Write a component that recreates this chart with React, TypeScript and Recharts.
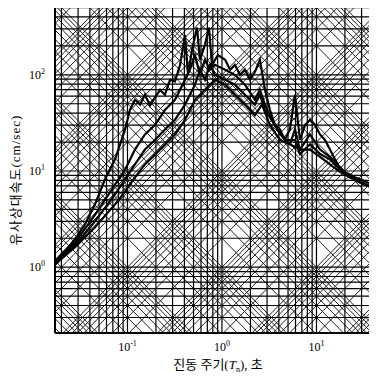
import React from 'react';
import { LineChart, Line, XAxis, YAxis, ReferenceLine } from 'recharts';

// Periods (s) and pseudo-velocities (cm/sec) for four response spectra
const T_A = [0.0171,0.0218,0.0278,0.0355,0.0453,0.0578,0.0738,0.0942,0.106,0.120,0.136,0.153,0.173,0.195,0.221,0.249,0.282,0.318,0.360,0.406,0.437,0.482,0.544,0.585,0.661,0.728,0.784,0.907,1.08,1.22,1.37,1.55,1.75,1.98,2.23,2.52,2.85,3.22,3.64,4.11,4.64,5.24,5.92,6.69,7.56,8.54,9.64,10.9,12.3,13.9,15.7,17.7,20.0,22.6,25.5,28.9,32.6,36.8,43.7];
const V_A = [1.15,1.47,1.95,2.79,4.5,8.2,13.2,26.9,43,55,49,62,48,58,70,62,89,85,127,260,100,182,310,143,205,310,127,160,143,113,127,100,113,89,107,143,70,43,30,27,21,27,62,21,30,34,30,24,21,16.7,13.2,10.7,9.7,9.2,8.6,8.2,7.8,7.4,6.7];

const T_B = [0.0171,0.0278,0.0453,0.0738,0.0942,0.120,0.153,0.195,0.249,0.318,0.360,0.406,0.458,0.518,0.585,0.661,0.747,0.843,1.08,1.37,1.75,2.23,2.52,2.85,3.22,4.11,5.24,5.92,6.69,8.54,10.9,13.9,17.7,22.6,28.9,43.7];
const V_B = [1.12,1.8,3.5,7.2,10.3,16.7,24,30,43,55,70,89,113,160,100,143,113,127,113,100,79,55,70,49,38,24,19,27,16.7,24,16.7,14,10.4,8.8,7.8,6.4];

const T_C = [0.0171,0.0278,0.0453,0.0738,0.0942,0.120,0.153,0.195,0.249,0.318,0.406,0.458,0.518,0.585,0.661,0.747,0.843,1.08,1.37,1.75,2.23,2.52,2.85,3.64,4.64,5.92,6.69,8.54,10.9,13.9,17.7,22.6,28.9,43.7];
const V_C = [1.1,1.69,3.0,5.7,8.2,11.7,16.7,21,27,34,49,62,79,113,89,127,100,89,79,62,49,62,43,30,21,21,15,19,15,13.2,10.4,8.6,7.6,6.4];

const T_D = [0.0171,0.0278,0.0453,0.0738,0.0942,0.120,0.153,0.195,0.249,0.318,0.406,0.518,0.661,0.843,1.08,1.37,1.75,2.23,2.65,3.22,4.11,5.24,6.69,8.54,10.9,13.9,17.7,22.6,28.9,43.7];
const V_D = [1.07,1.61,2.6,4.5,6.1,8.6,11.7,14.8,18.8,24,34,55,70,89,79,62,49,38,49,30,21,19,16.7,16.7,14,11.7,9.8,8.6,7.6,6.4];

const X_DOMAIN = [0.0171, 43.7];
const Y_DOMAIN = [0.207, 519];
const X_TICKS = [0.1, 1, 10];
const X_TICK_EXP = ['-1', '0', '1'];
const Y_TICKS = [1, 10, 100];
const Y_TICK_EXP = ['0', '1', '2'];
const GRID_MULT = [1, 2, 3, 4, 5, 6, 7, 8, 9];
const GRID_DEC_X = [-2, -1, 0, 1];
const GRID_DEC_Y = [-1, 0, 1, 2];
const DIAG_DEC = [-3, -2, -1, 0, 1, 2, 3, 4];

const zip = (ts: number[], vs: number[]) => ts.map((t, i) => ({ T: t, V: vs[i] }));
const SERIES = [zip(T_A, V_A), zip(T_B, V_B), zip(T_C, V_C), zip(T_D, V_D)];

const inX = (v: number) => v > X_DOMAIN[0] && v < X_DOMAIN[1];
const inY = (v: number) => v > Y_DOMAIN[0] && v < Y_DOMAIN[1];
const xGrid: number[] = [];
GRID_DEC_X.forEach(d => GRID_MULT.forEach(m => { const v = m * Math.pow(10, d); if (inX(v)) xGrid.push(v); }));
const yGrid: number[] = [];
GRID_DEC_Y.forEach(d => GRID_MULT.forEach(m => { const v = m * Math.pow(10, d); if (inY(v)) yGrid.push(v); }));
const diagConsts: number[] = [];
DIAG_DEC.forEach(d => GRID_MULT.forEach(m => diagConsts.push(m * Math.pow(10, d))));

const FONT = '"Liberation Serif", "Noto Sans CJK KR", serif';

const XTick = (props: any) => {
  const { x, y, payload } = props;
  const i = X_TICKS.indexOf(payload.value);
  return (
    <text x={x} y={y + 10} textAnchor="middle" fontFamily={FONT} fontSize={12} style={{ fill: '#000' }}>
      10<tspan dy={-5} fontSize={8}>{X_TICK_EXP[i]}</tspan>
    </text>
  );
};

const YTick = (props: any) => {
  const { x, y, payload } = props;
  const i = Y_TICKS.indexOf(payload.value);
  return (
    <text x={x - 2} y={y + 4} textAnchor="end" fontFamily={FONT} fontSize={12} style={{ fill: '#000' }}>
      10<tspan dy={-5} fontSize={8}>{Y_TICK_EXP[i]}</tspan>
    </text>
  );
};

export default function App() {
  return (
    <div style={{ position: 'relative', left: -8, top: -8, width: 377, height: 376, background: '#fff' }}>
      <LineChart width={377} height={376} margin={{ top: 6, right: 0, bottom: 0, left: 0 }}>
        <XAxis
          dataKey="T"
          type="number"
          scale="log"
          domain={X_DOMAIN}
          allowDataOverflow
          ticks={X_TICKS}
          tick={<XTick />}
          tickLine={false}
          axisLine={{ stroke: '#000', strokeWidth: 2 }}
          height={43}
          label={{
            content: () => (
              <text x={218} y={369} textAnchor="middle" fontFamily={FONT} fontSize={13} style={{ fill: '#000' }}>
                진동 주기(<tspan fontStyle="italic">T</tspan><tspan fontSize={8} dy={3}>n</tspan><tspan dy={-3}>), 초</tspan>
              </text>
            ),
          }}
        />
        <YAxis
          dataKey="V"
          type="number"
          scale="log"
          domain={Y_DOMAIN}
          allowDataOverflow
          ticks={Y_TICKS}
          tick={<YTick />}
          tickLine={false}
          axisLine={{ stroke: '#000', strokeWidth: 2 }}
          width={55}
          label={{
            content: () => (
              <text x={20} y={180} transform="rotate(-90, 20, 180)" textAnchor="middle" fontFamily={FONT} fontSize={13} letterSpacing={1} style={{ fill: '#000' }}>
                유사상대속도(cm/sec)
              </text>
            ),
          }}
        />
        {diagConsts.map((c, i) => (
          <ReferenceLine
            key={'dp' + i}
            segment={[{ x: 0.001, y: c * 0.001 }, { x: 1000, y: c * 1000 }]}
            ifOverflow="hidden"
            stroke="#222"
            strokeWidth={1}
          />
        ))}
        {diagConsts.map((c, i) => (
          <ReferenceLine
            key={'dm' + i}
            segment={[{ x: 0.001, y: c / 0.001 }, { x: 1000, y: c / 1000 }]}
            ifOverflow="hidden"
            stroke="#222"
            strokeWidth={1}
          />
        ))}
        {xGrid.map((v, i) => (
          <ReferenceLine key={'vx' + i} x={v} stroke="#000" strokeWidth={1.2} />
        ))}
        {yGrid.map((v, i) => (
          <ReferenceLine key={'hy' + i} y={v} stroke="#000" strokeWidth={1.2} />
        ))}
        <ReferenceLine y={Y_DOMAIN[1]} stroke="#000" strokeWidth={2} ifOverflow="extendDomain" />
        {SERIES.map((d, i) => (
          <Line
            key={'s' + i}
            data={d}
            dataKey="V"
            type="linear"
            stroke="#000"
            strokeWidth={2.2}
            dot={false}
            isAnimationActive={false}
          />
        ))}
      </LineChart>
    </div>
  );
}
